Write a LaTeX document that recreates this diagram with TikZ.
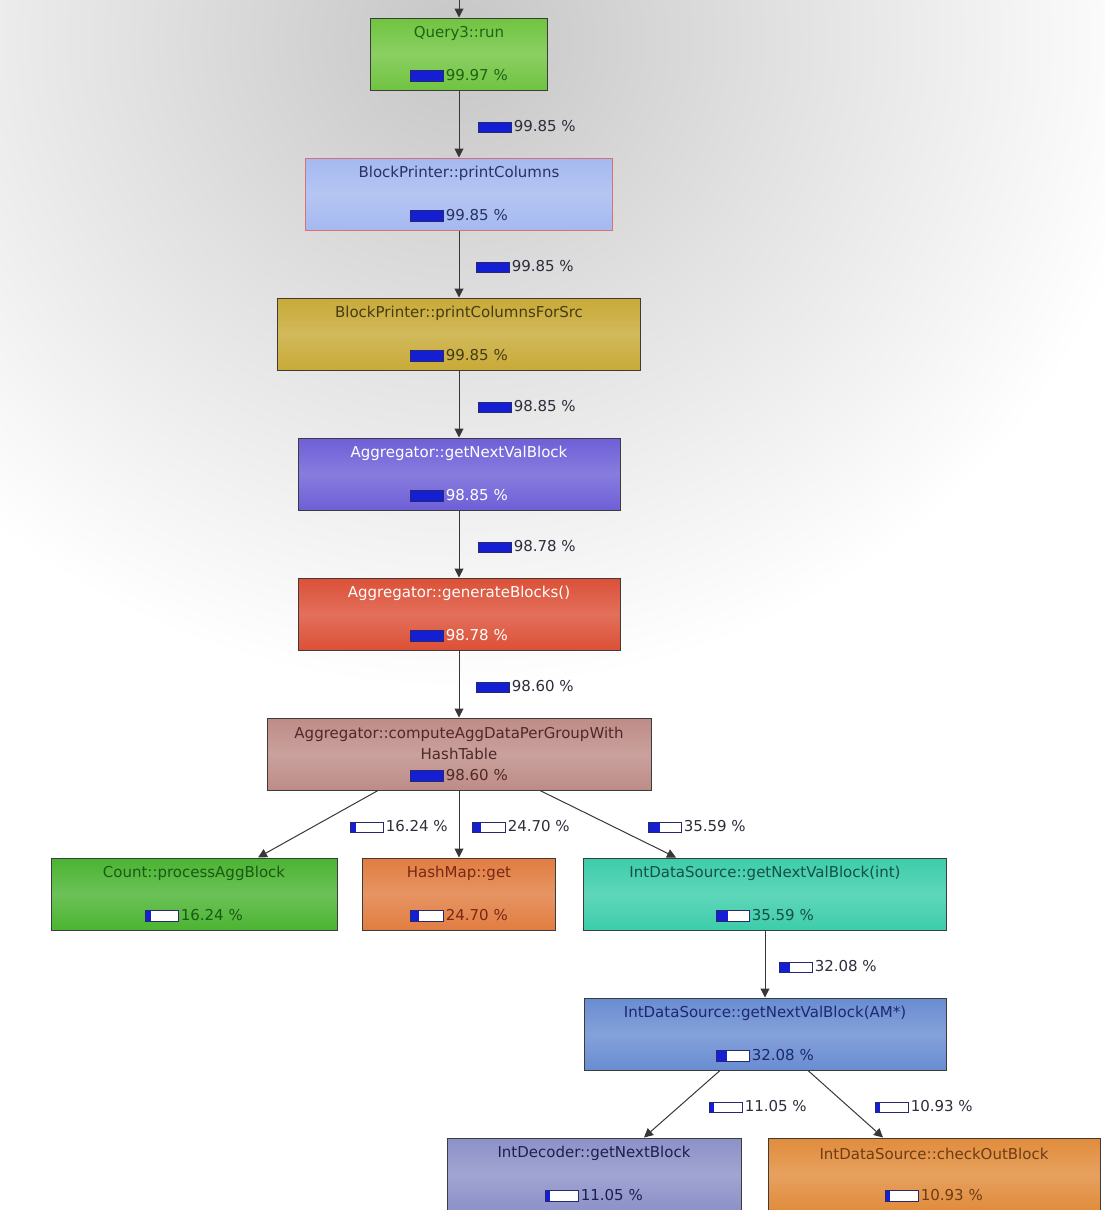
\documentclass[tikz,border=0pt]{standalone}
\usepackage{fontspec}
\setmainfont{DejaVu Sans}
\usetikzlibrary{arrows.meta}
\definecolor{bgA}{RGB}{198,198,198}
\definecolor{bgB}{RGB}{226,226,226}
\definecolor{boxline}{RGB}{60,60,60}
\definecolor{edgecol}{RGB}{55,55,55}
\definecolor{barblue}{RGB}{20,30,210}
\definecolor{barframe}{RGB}{40,40,110}
\definecolor{labtext}{RGB}{45,45,60}
\definecolor{cQ}{RGB}{112,196,64}
\definecolor{tQ}{RGB}{30,100,20}
\definecolor{cPC}{RGB}{165,185,240}
\definecolor{bPC}{RGB}{220,110,120}
\definecolor{tPC}{RGB}{40,50,100}
\definecolor{cPS}{RGB}{200,170,55}
\definecolor{tPS}{RGB}{70,60,20}
\definecolor{cGV}{RGB}{110,95,215}
\definecolor{cGB}{RGB}{220,80,55}
\definecolor{cCA}{RGB}{190,140,135}
\definecolor{tCA}{RGB}{80,40,40}
\definecolor{cCN}{RGB}{75,180,50}
\definecolor{tCN}{RGB}{25,90,20}
\definecolor{cHM}{RGB}{225,125,65}
\definecolor{tHM}{RGB}{120,40,20}
\definecolor{cII}{RGB}{60,205,170}
\definecolor{tII}{RGB}{20,80,70}
\definecolor{cIA}{RGB}{105,140,210}
\definecolor{tIA}{RGB}{30,40,110}
\definecolor{cDE}{RGB}{140,145,200}
\definecolor{tDE}{RGB}{30,30,80}
\definecolor{cCH}{RGB}{225,140,60}
\definecolor{tCH}{RGB}{110,60,20}
\pgfdeclareradialshading{bgshade}{\pgfpoint{0bp}{0bp}}{color(0bp)=(bgA); color(12bp)=(bgB); color(25bp)=(white); color(50bp)=(white)}
\newcommand\pbar[1]{\raisebox{-0.5pt}{\setlength\fboxsep{0pt}\setlength\fboxrule{0.8pt}\fcolorbox{barframe}{white}{\textcolor{barblue}{\rule{#1pt}{10pt}}\hspace*{\dimexpr32pt-#1pt\relax}}}}
\newcommand\fnode[9]{%
  \node[box, #5] (#1) at (#2,#3) [minimum width=#4pt] {};
  \path (#1.north) ++(0,16) node[text=#6] (#1-t) {#7};
  \path (#1.south) ++(0,-15) node[text=#6] (#1-p) {\pbar{#8}\kern2pt#9 \%};
}
\tikzset{
  box/.style={draw=boxline, line width=1pt, minimum height=72pt, inner sep=0pt},
  shd/.style={top color=#1, bottom color=#1, middle color=#1!82!white},
  edge/.style={draw=edgecol, line width=1pt, -{Triangle[width=9pt,length=9pt]}},
  elabel/.style={anchor=west, inner sep=0pt, text=labtext}
}
\begin{document}
\begin{tikzpicture}[x=1pt,y=-1pt, font=\fontsize{15}{18}\selectfont]
\useasboundingbox (0,0) rectangle (1105,1210);
\begin{scope}
\clip (0,0) rectangle (1105,1210);
\shade[shading=bgshade] (459,40) ellipse (700 and 650);
\end{scope}
% nodes
\fnode{q}{459}{54}{177}{shd=cQ}{tQ}{Query3::run}{32}{99.97}
\fnode{pc}{459}{194}{307}{shd=cPC, draw=bPC}{tPC}{BlockPrinter::printColumns}{32}{99.85}
\fnode{ps}{459}{334}{363}{shd=cPS}{tPS}{BlockPrinter::printColumnsForSrc}{32}{99.85}
\fnode{gv}{459}{474}{322}{shd=cGV}{white}{Aggregator::getNextValBlock}{31.6}{98.85}
\fnode{gb}{459}{614}{322}{shd=cGB}{white}{Aggregator::generateBlocks()}{31.6}{98.78}
\node[box, shd=cCA] (ca) at (459,754) [minimum width=384pt] {};
\path (ca.north) ++(0,25.5) node[text=tCA, align=center, font=\fontsize{15}{21}\selectfont] (ca-t) {Aggregator::computeAggDataPerGroupWith\\HashTable};
\path (ca.south) ++(0,-15) node[text=tCA] (ca-p) {\pbar{31.6}\kern2pt98.60 \%};
\fnode{cn}{194}{894}{286}{shd=cCN}{tCN}{Count::processAggBlock}{5.2}{16.24}
\fnode{hm}{459}{894}{193}{shd=cHM}{tHM}{HashMap::get}{7.9}{24.70}
\fnode{ii}{765}{894}{363}{shd=cII}{tII}{IntDataSource::getNextValBlock(int)}{11.4}{35.59}
\fnode{ia}{765}{1034}{362}{shd=cIA}{tIA}{IntDataSource::getNextValBlock(AM*)}{10.3}{32.08}
\fnode{de}{594}{1174}{294}{shd=cDE}{tDE}{IntDecoder::getNextBlock}{3.5}{11.05}
\fnode{ch}{934}{1174}{332}{shd=cCH}{tCH}{IntDataSource::checkOutBlock}{3.5}{10.93}
% edges
\coordinate (top) at (459,0);
\draw[edge] (top) -- (q);
\draw[edge] (q) -- (pc);
\draw[edge] (pc) -- (ps);
\draw[edge] (ps) -- (gv);
\draw[edge] (gv) -- (gb);
\draw[edge] (gb) -- (ca);
\draw[edge] ([xshift=-81pt]ca.south) -- ([xshift=64pt]cn.north);
\draw[edge] (ca.south) -- (hm.north);
\draw[edge] ([xshift=81pt]ca.south) -- ([xshift=-89pt]ii.north);
\draw[edge] (ii) -- (ia);
\draw[edge] ([xshift=-45pt]ia.south) -- ([xshift=50pt]de.north);
\draw[edge] ([xshift=43pt]ia.south) -- ([xshift=-51pt]ch.north);
% edge labels
\node[elabel] (l1) at (478,127) {\pbar{32}\kern2pt99.85 \%};
\node[elabel] (l2) at (476,267) {\pbar{32}\kern2pt99.85 \%};
\node[elabel] (l3) at (478,407) {\pbar{31.6}\kern2pt98.85 \%};
\node[elabel] (l4) at (478,547) {\pbar{31.6}\kern2pt98.78 \%};
\node[elabel] (l5) at (476,687) {\pbar{31.6}\kern2pt98.60 \%};
\node[elabel] (l6) at (350,827) {\pbar{5.2}\kern2pt16.24 \%};
\node[elabel] (l7) at (472,827) {\pbar{7.9}\kern2pt24.70 \%};
\node[elabel] (l8) at (648,827) {\pbar{11.4}\kern2pt35.59 \%};
\node[elabel] (l9) at (779,967) {\pbar{10.3}\kern2pt32.08 \%};
\node[elabel] (l10) at (709,1107) {\pbar{3.5}\kern2pt11.05 \%};
\node[elabel] (l11) at (875,1107) {\pbar{3.5}\kern2pt10.93 \%};
\end{tikzpicture}
\end{document}
